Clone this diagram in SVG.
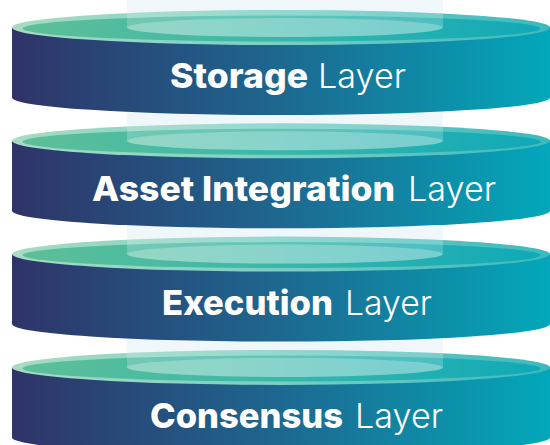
<svg xmlns="http://www.w3.org/2000/svg" xmlns:xlink="http://www.w3.org/1999/xlink" width="550" height="445" viewBox="0 0 550 445">
  <style>
    .label { fill: #ffffff; font-family: Inter, "Open Sans", "Liberation Sans", sans-serif; font-size: 34px; }
    .strong { font-weight: 800; }
    .light { font-weight: 300; }
  </style>
  <defs>
    <linearGradient id="sideGrad" gradientUnits="userSpaceOnUse" x1="12" y1="0" x2="550" y2="0">
      <stop offset="0" stop-color="#2f3368"/>
      <stop offset="0.5" stop-color="#1d6890"/>
      <stop offset="1" stop-color="#03a8ba"/>
    </linearGradient>
    <linearGradient id="rimGrad" gradientUnits="userSpaceOnUse" x1="12" y1="0" x2="550" y2="0">
      <stop offset="0" stop-color="#a7dcc2"/>
      <stop offset="0.5" stop-color="#79cfc3"/>
      <stop offset="1" stop-color="#3cb9bd"/>
    </linearGradient>
    <linearGradient id="faceGrad" gradientUnits="userSpaceOnUse" x1="22" y1="0" x2="540" y2="0">
      <stop offset="0" stop-color="#5ebf98"/>
      <stop offset="0.45" stop-color="#3db8a8"/>
      <stop offset="1" stop-color="#10a9b8"/>
    </linearGradient>
    <clipPath id="faceClip" clipPathUnits="userSpaceOnUse">
      <ellipse cx="281" cy="27.5" rx="269" ry="17.5"/>
    </clipPath>
    <!-- one disk: side wall, rim, top face and the column passing through it -->
    <g id="disk">
      <path d="M12,27.5 V97.5 A269,17.5 0 0 0 550,97.5 V27.5 Z" fill="url(#sideGrad)"/>
      <ellipse cx="281" cy="27.5" rx="269" ry="17.5" fill="url(#rimGrad)"/>
      <ellipse cx="281.5" cy="28.5" rx="259" ry="13" fill="url(#faceGrad)"/>
      <path d="M127,0 H443 V27.5 A158,9.5 0 0 1 127,27.5 Z" fill="#ffffff" fill-opacity="0.2" clip-path="url(#faceClip)"/>
      <ellipse cx="285" cy="27.5" rx="158" ry="9.5" fill="#ffffff" fill-opacity="0.25"/>
    </g>
  </defs>

  <!-- central translucent column behind the stack -->
  <rect id="column" x="127" y="0" width="316" height="445" fill="#f0f7fa"/>

  <g id="storage-layer">
    <use xlink:href="#disk" href="#disk"/>
    <text class="label" y="88"><tspan class="strong" x="170" textLength="138" lengthAdjust="spacingAndGlyphs">Storage</tspan></text>
    <text class="label" y="88"><tspan class="light" x="318" textLength="88" lengthAdjust="spacingAndGlyphs">Layer</tspan></text>
  </g>

  <g id="asset-integration-layer" transform="translate(0,113.3)">
    <use xlink:href="#disk" href="#disk"/>
    <text class="label" y="88"><tspan class="strong" x="92" textLength="303" lengthAdjust="spacingAndGlyphs">Asset Integration</tspan></text>
    <text class="label" y="88"><tspan class="light" x="408" textLength="88" lengthAdjust="spacingAndGlyphs">Layer</tspan></text>
  </g>

  <g id="execution-layer" transform="translate(0,226.6)">
    <use xlink:href="#disk" href="#disk"/>
    <text class="label" y="88"><tspan class="strong" x="162" textLength="171" lengthAdjust="spacingAndGlyphs">Execution</tspan></text>
    <text class="label" y="88"><tspan class="light" x="345" textLength="87" lengthAdjust="spacingAndGlyphs">Layer</tspan></text>
  </g>

  <g id="consensus-layer" transform="translate(0,339.9)">
    <use xlink:href="#disk" href="#disk"/>
    <text class="label" y="88"><tspan class="strong" x="150" textLength="193" lengthAdjust="spacingAndGlyphs">Consensus</tspan></text>
    <text class="label" y="88"><tspan class="light" x="355" textLength="88" lengthAdjust="spacingAndGlyphs">Layer</tspan></text>
  </g>

  <g id="connectors"/>
</svg>
